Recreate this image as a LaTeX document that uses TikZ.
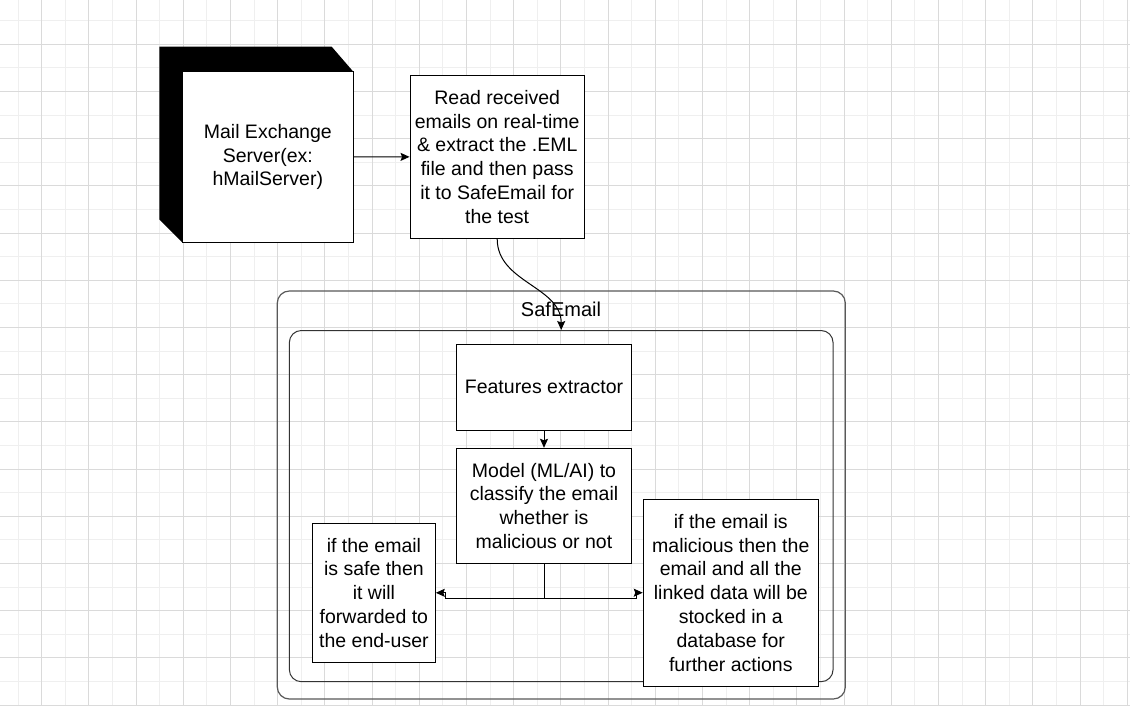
\documentclass[tikz,border=0pt]{standalone}
\usepackage{fontspec}
\setmainfont{Liberation Sans}
\usepackage{tikz}
\usetikzlibrary{arrows.meta}
\definecolor{gridmaj}{HTML}{DADADA}
\definecolor{gridmin}{HTML}{EFEFEF}

\begin{document}
\begin{tikzpicture}[x=1pt,y=-1pt,>={Stealth[length=9pt,width=8pt,inset=1.5pt]},
                    line width=1pt]
\tikzstyle{every node}=[text=black,align=center,inner sep=0pt]
\tikzstyle{stepbox}=[draw=black,fill=white,line width=1pt]
\tikzstyle{gridminor}=[draw=gridmin,line width=1pt]
\tikzstyle{gridmajor}=[draw=gridmaj,line width=1pt]
\tikzset{font=\fontsize{19.5pt}{23.8pt}\selectfont}

        % background grid
        \useasboundingbox (0,0) rectangle (1130,706);
        \fill[white] (0,0) rectangle (1130,706);
        \foreach \k in {0,...,23} {
          \draw[gridminor] ({18.1+47.2*\k},0) -- ({18.1+47.2*\k},706);
        }
        \foreach \k in {0,...,14} {
          \draw[gridminor] (0,{20.7+47.2*\k}) -- (1130,{20.7+47.2*\k});
        }
        \foreach \k in {0,...,23} {
          \draw[gridmajor] ({41.7+47.2*\k},0) -- ({41.7+47.2*\k},706);
        }
        \foreach \k in {0,...,14} {
          \draw[gridmajor] (0,{44.3+47.2*\k}) -- (1130,{44.3+47.2*\k});
        }

        % mail server (3d box)
        \fill[black] (159.3,46.7) -- (331.7,46.7) -- (353.3,71.7) -- (182.3,71.7)
                     -- (182.3,242.3) -- (159.3,219.5) -- cycle;
        \node[stepbox, minimum width=171pt, minimum height=170.6pt]   (mail)   at (267.8,157)   {Mail Exchange\\Server(ex:\\hMailServer)};

        \node[stepbox, minimum width=174.3pt, minimum height=163.3pt] (read)   at (497.2,156.8) {Read received\\emails on real-time\\\& extract the .EML\\file and then pass\\it to SafeEmail for\\the test};

        % SafEmail containers
        \node[draw=black!65, line width=1.2pt, rounded corners=12pt, minimum width=568pt, minimum height=408pt] (safemail) at (561.3,495) {};
        \node[font=\fontsize{20pt}{24pt}\selectfont]                           (title)  at (561,309)    {SafEmail};
        \node[draw=black!80, rounded corners=12pt, minimum width=543.7pt, minimum height=351.2pt]              (engine) at (561.2,506.1) {};

        \node[stepbox, minimum width=175pt, minimum height=86pt]       (feat)   at (544,387)     {Features extractor};
        \node[stepbox, minimum width=175pt, minimum height=115pt]      (model)  at (544,505.8)   {Model (ML/AI) to\\classify the email\\whether is\\malicious or not};
        \node[stepbox, minimum width=122.8pt, minimum height=139pt]    (safe)   at (373.9,592.8) {if the email\\is safe then\\it will\\forwarded to\\the end-user};
        \node[stepbox, minimum width=175.1pt, minimum height=186.7pt]  (mal)    at (730.8,592.7) {if the email is\\malicious then the\\email and all the\\linked data will be\\stocked in a\\database for\\further actions};

        \coordinate (split) at (544,598.3);
        \coordinate (lbend) at (445.4,598.3);
        \coordinate (rbend) at (636.5,598.3);

        \path[->]
        (mail)        edge node {}          (read)
        (read.south)  edge[out=-90,in=90]   (engine.north)
        (feat)        edge node {}          (model)
        ; %end path

        \draw (model.south) -- (split);
        \draw[->] (split) -- (lbend) |- (safe.east);
        \draw[->] (split) -- (rbend) |- (mal.west);

\end{tikzpicture}
\end{document}
